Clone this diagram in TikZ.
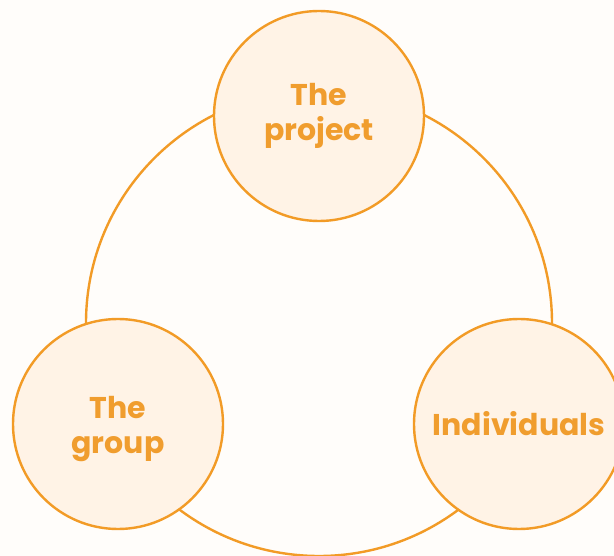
\documentclass[tikz,border=0pt]{standalone}
\usepackage{fontspec}
\setmainfont{Poppins}
\begin{document}
\definecolor{bgcol}{HTML}{FFFDFA}
\definecolor{ring}{HTML}{F29B26}
\definecolor{bubble}{HTML}{FFF3E6}
\definecolor{label}{HTML}{F09D2E}
\begin{tikzpicture}[x=1pt,y=-1pt,
  topic/.style={circle, draw=ring, fill=bubble, line width=2.4pt,
    minimum size=210pt, inner sep=0pt, align=center,
    font=\bfseries\fontsize{30}{35}\selectfont, text=label}]
  \fill[bgcol] (0,0) rectangle (614,556);
  \useasboundingbox (0,0) rectangle (614,556);
  \begin{scope}
    \clip (0,0) rectangle (614,556);
    % the cycle linking the three topics
    \draw[ring, line width=2.4pt] (319,323) circle[radius=233];
    \node[topic] (project) at (319,116) {The\\project};
    \node[topic] (group) at (118,424) {\rule{0pt}{33pt}The\\group};
    \node[topic] (indiv) at (519,424) {Individuals};
  \end{scope}
\end{tikzpicture}
\end{document}
